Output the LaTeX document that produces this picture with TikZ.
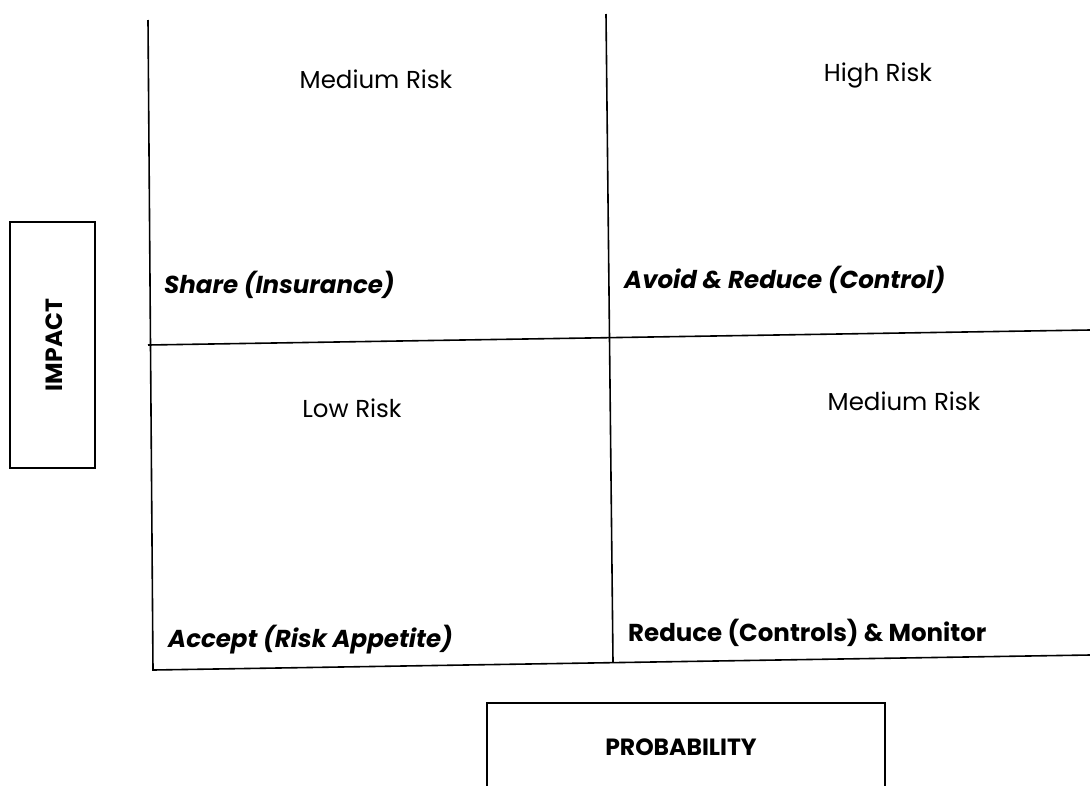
\documentclass[tikz,border=0pt]{standalone}
\usepackage{fontspec}
\setmainfont{Poppins}
\begin{document}
\begin{tikzpicture}[x=1pt,y=-1pt,
  gridline/.style={line width=1.6pt,black},
  frame/.style={draw,line width=1.6pt,inner sep=0pt},
  level/.style={font=\fontsize{24.5}{28}\selectfont,inner sep=0pt},
  action/.style={font=\fontsize{24.5}{28}\selectfont\bfseries\itshape,inner sep=0pt,anchor=base west},
  axis/.style={font=\fontsize{23.5}{27}\selectfont\bfseries,inner sep=0pt}]
\useasboundingbox (0,0) rectangle (1090,785);

% grid corners
\coordinate (lt) at (148,20);
\coordinate (lb) at (153,670);
\coordinate (mt) at (606,14);
\coordinate (mb) at (613,662);
\coordinate (hl) at (148,345);
\coordinate (hr) at (1090,330);
\coordinate (br) at (1090,655);

% quadrant lines
\draw[gridline] (lt) -- (lb) -- (br);
\draw[gridline] (mt) -- (mb);
\draw[gridline] (hl) -- (hr);

% risk levels
\node[level,anchor=base] (hiM) at (376,88) {Medium Risk};
\node[level,anchor=base] (hiH) at (878,81) {High Risk};
\node[level,anchor=base] (loL) at (352,417) {Low Risk};
\node[level,anchor=base] (loM) at (904,410) {Medium Risk};

% responses
\node[action] (share) at (164,293) {Share (Insurance)};
\node[action] (avoid) at (624,288) {Avoid \& Reduce (Control)};
\node[action] (accept) at (168,647) {Accept (Risk Appetite)};
\node[action,font=\fontsize{24.5}{28}\selectfont\bfseries] (reduce) at (628,641) {Reduce (Controls) \& Monitor};

% axis boxes
\draw[frame] (10,222) rectangle (95,468);
\node[axis,rotate=90] (impact) at (54,345) {IMPACT};
\draw[frame] (487,805) -- (487,703) -- (885,703) -- (885,805);
\node[axis,anchor=base] (prob) at (681,755) {PROBABILITY};
\end{tikzpicture}
\end{document}
